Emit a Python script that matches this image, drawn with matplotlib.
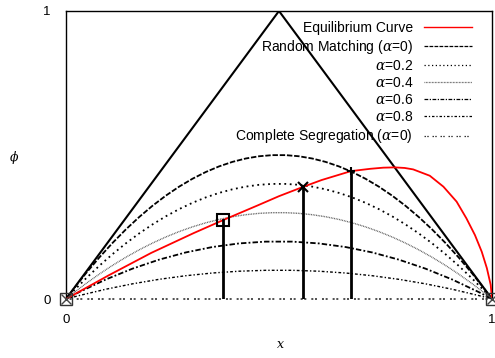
import matplotlib
matplotlib.use("Agg")
import matplotlib.pyplot as plt
from matplotlib.path import Path
from matplotlib.patches import PathPatch
from matplotlib.lines import Line2D

plt.rcParams['font.family'] = ['Liberation Sans', 'DejaVu Sans']
plt.rcParams['mathtext.fontset'] = 'dejavuserif'

# Equilibrium curve (x, phi)
eq_x = [0.0, 0.1, 0.2, 0.3, 0.369, 0.45, 0.5, 0.556, 0.6, 0.669, 0.714, 0.745,
        0.772, 0.795, 0.815, 0.854, 0.886, 0.917, 0.94, 0.96, 0.976, 0.988,
        0.997, 1.0]
eq_phi = [0.0, 0.082, 0.16, 0.229, 0.274, 0.325, 0.357, 0.389, 0.413, 0.444,
          0.452, 0.456, 0.457, 0.455, 0.450, 0.428, 0.390, 0.338, 0.280,
          0.222, 0.164, 0.107, 0.049, 0.0]

# Matching curves: label, peak height at x=0.5, line style, colour, width
curve_labels = ['Random Matching ($\\alpha$=0)', '$\\alpha$=0.2', '$\\alpha$=0.4',
                '$\\alpha$=0.6', '$\\alpha$=0.8', 'Complete Segregation ($\\alpha$=0)']
curve_peaks = [0.5, 0.4, 0.3, 0.2, 0.1, 0.0]
curve_styles = [(0, (3, 1)), (0, (1, 2)), (0, (0.6, 0.6)), (0, (3, 1.2, 1, 1.2)),
                (0, (2, 1.5, 1, 1.5)), (0, (1.2, 1, 1.2, 3))]
curve_colors = ['black', 'black', '#555555', 'black', 'black', '#333333']
curve_widths = [1.3, 1.3, 1.0, 1.3, 1.0, 1.2]

# Equilibrium points on the curves
pt_x = [0.369, 0.556, 0.669]
pt_phi = [0.274, 0.389, 0.444]
pt_markers = ['s', 'x', '+']
pt_sizes = [9, 7, 6]

# Feasible region triangle
tri_x = [0.0, 0.5, 1.0]
tri_y = [0.0, 1.0, 0.0]

fig = plt.figure(figsize=(4.95, 3.58), dpi=100)
ax = fig.add_axes([0.1333, 0.1648, 0.8606, 0.8045])
ax.set_xlim(0, 1)
ax.set_ylim(0, 1)

ax.plot(tri_x, tri_y, color='black', lw=1.5, zorder=3)

handles = [Line2D([], [], color='red', lw=1.0)]
for peak, ls, c, w in zip(curve_peaks, curve_styles, curve_colors, curve_widths):
    # parabola through (0,0), (0.5,peak), (1,0) as a quadratic Bezier
    verts = [(0, 0), (0.5, 2 * peak), (1, 0)]
    path = Path(verts, [Path.MOVETO, Path.CURVE3, Path.CURVE3])
    ax.add_patch(PathPatch(path, facecolor='none', edgecolor=c, lw=w,
                           linestyle=ls, clip_on=False, zorder=2))
    handles.append(Line2D([], [], color=c, lw=0.9, linestyle=ls))

ax.plot(eq_x, eq_phi, color='red', lw=1.3, zorder=4, solid_joinstyle='round')

for x, y, m, s in zip(pt_x, pt_phi, pt_markers, pt_sizes):
    ax.plot([x, x], [0, y], color='black', lw=2, zorder=5)
    ax.plot(x, y, marker=m, ms=s, mfc='none', mec='black', mew=1.5, zorder=6)

for x in [0.0, 1.0]:
    ax.plot(x, 0, marker='s', ms=8, mfc='none', mec='#333333', mew=1.0,
            clip_on=False, zorder=6)
    ax.plot(x, 0, marker='x', ms=7, mec='#444444', mew=1.0,
            clip_on=False, zorder=6)

labels = ['Equilibrium Curve'] + curve_labels
ax.legend(handles, labels, loc='upper right', bbox_to_anchor=(0.953, 0.965),
          frameon=False, markerfirst=False, fontsize=10, handlelength=3.45,
          handletextpad=0.8, labelspacing=0.22, borderpad=0, borderaxespad=0)

ax.set_xticks([0, 1])
ax.set_yticks([0, 1])
ax.set_xticklabels(['0', '1'])
ax.set_yticklabels(['0', '1'])
ax.tick_params(length=0, labelsize=9.5)
ax.tick_params(axis='x', pad=11)
ax.tick_params(axis='y', pad=11)

for side in ['left', 'top', 'right']:
    ax.spines[side].set_color('black')
    ax.spines[side].set_linewidth(1.0)
ax.spines['bottom'].set_visible(False)

fig.text(14 / 495, 1 - 157 / 358, '$\\phi$', fontsize=9, ha='center', va='center')
fig.text(280 / 495, 1 - 345 / 358, '$x$', fontsize=9, ha='center', va='center')

fig.savefig('out.png', dpi=100)
